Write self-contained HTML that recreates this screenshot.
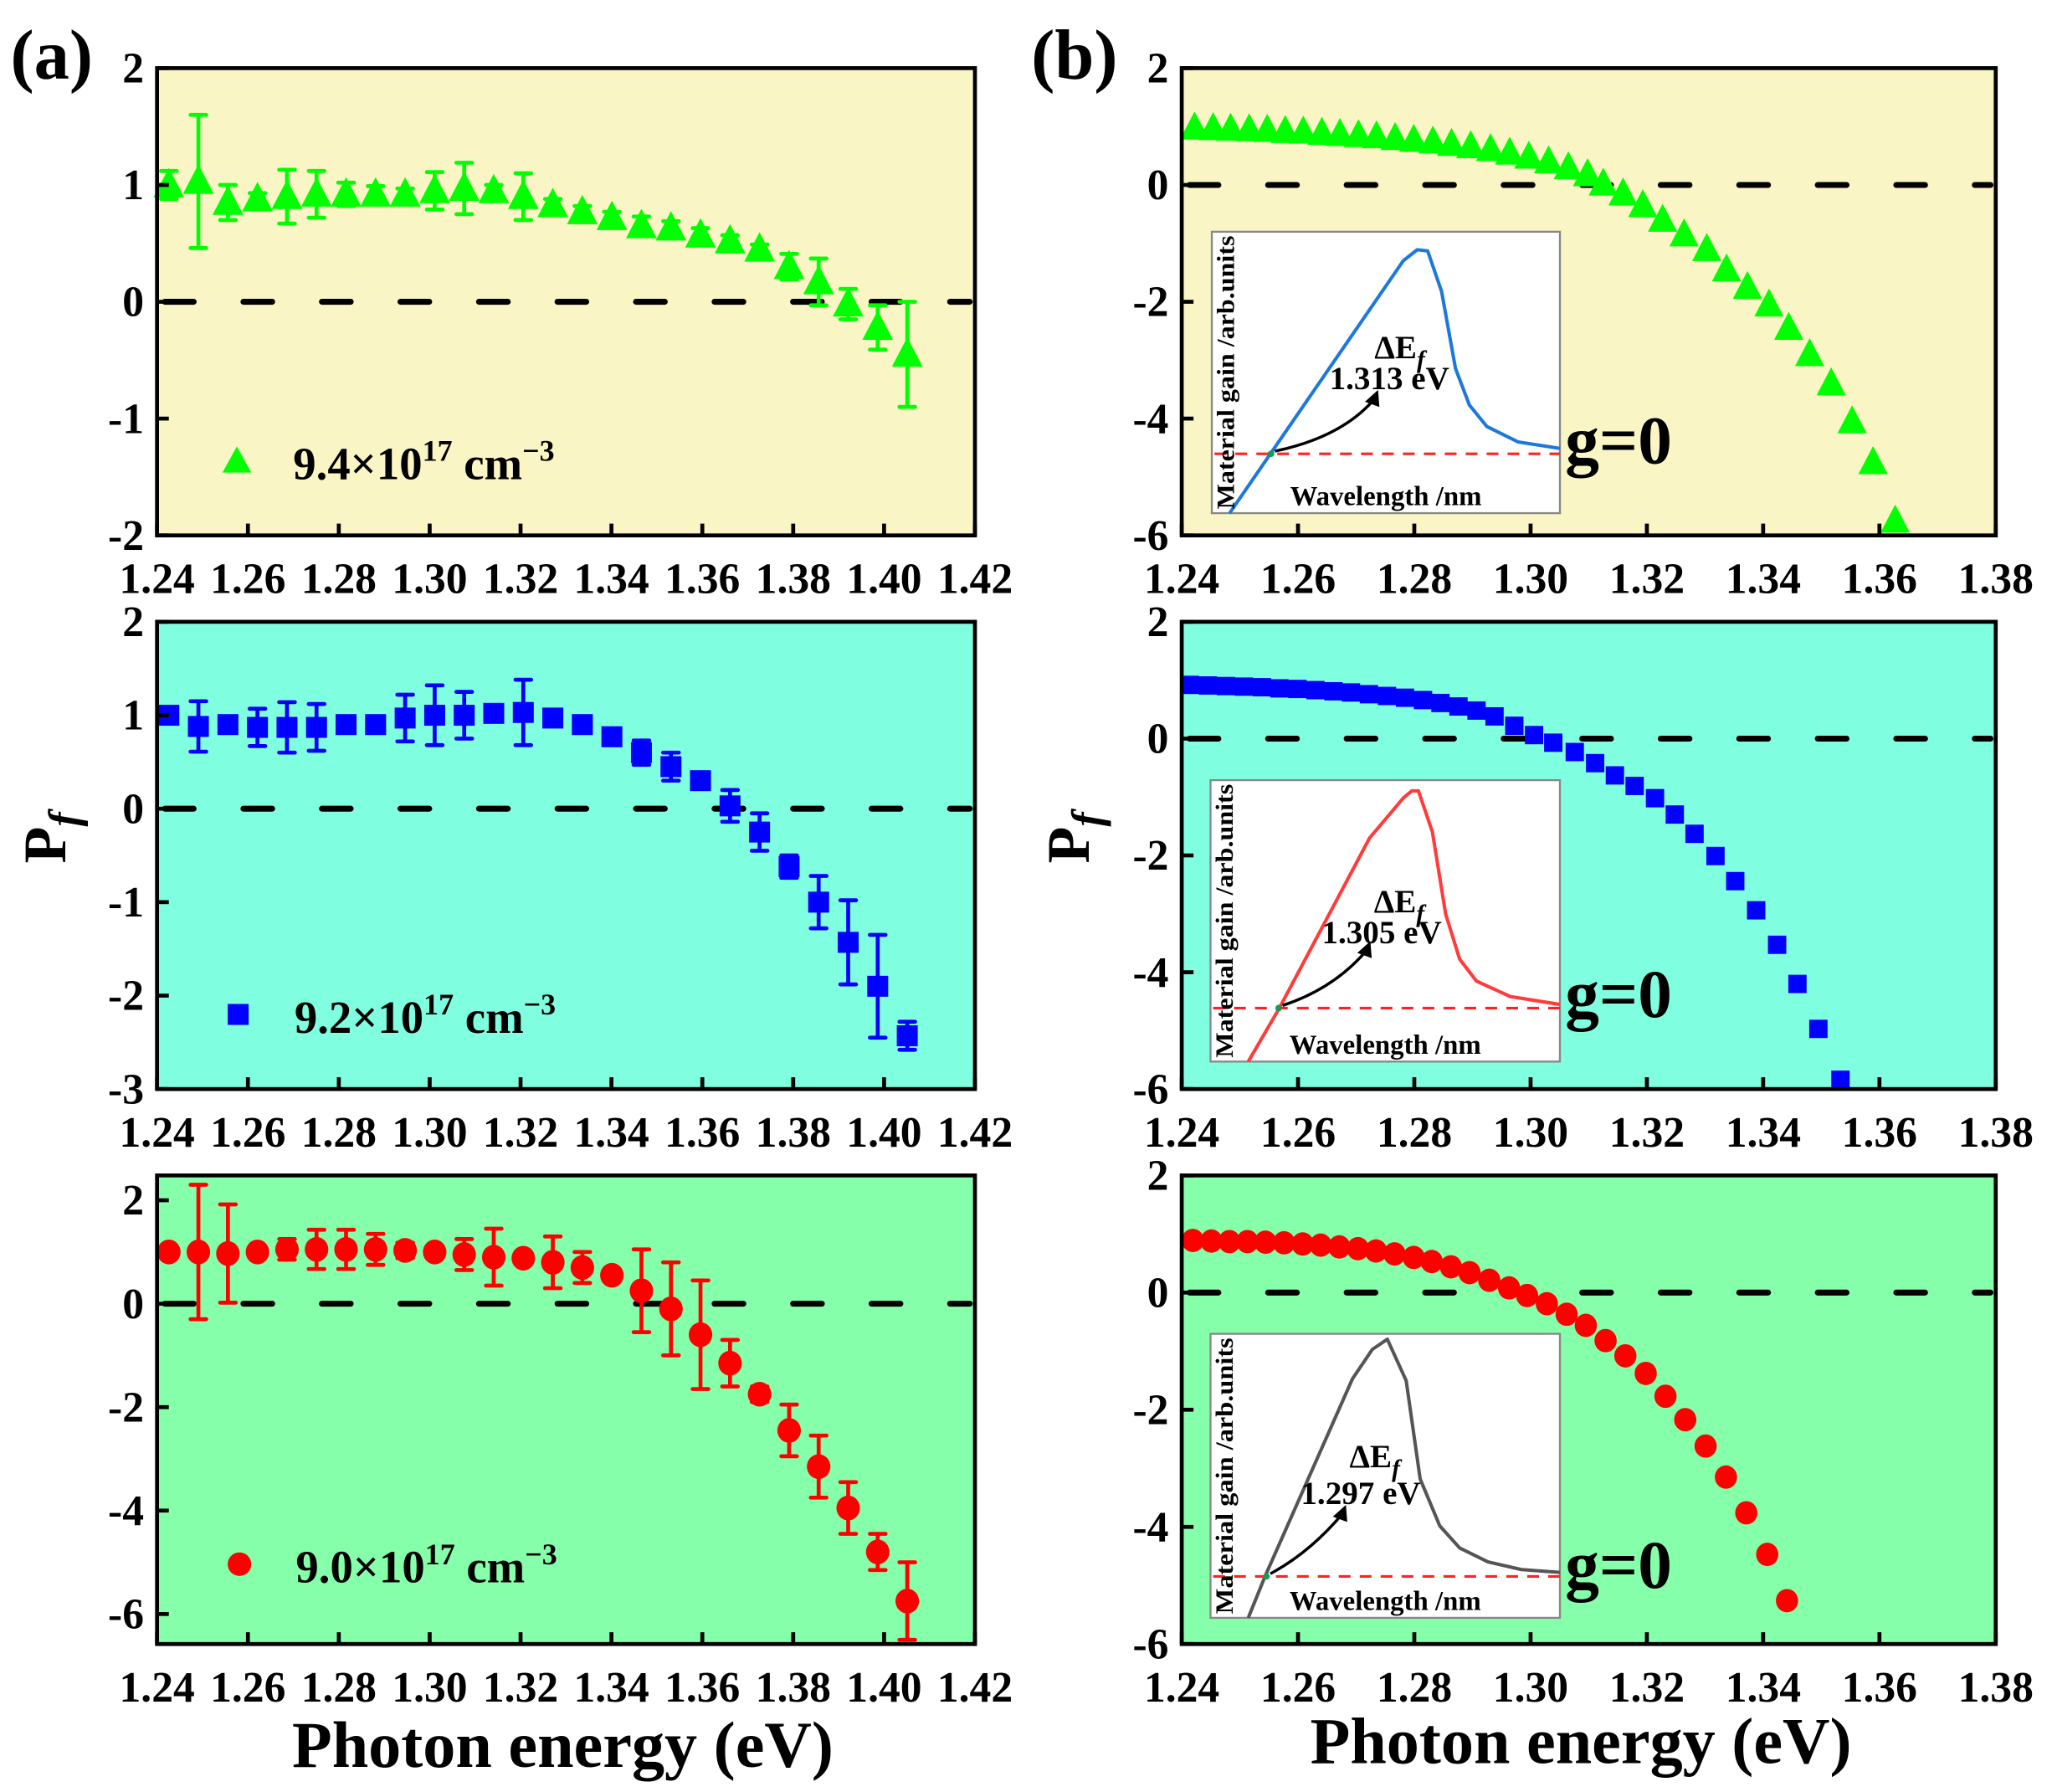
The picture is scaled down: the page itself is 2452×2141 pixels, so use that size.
<!DOCTYPE html>
<html><head><meta charset="utf-8"><style>
html,body{margin:0;padding:0;background:#fff;}
svg{display:block;font-family:"Liberation Serif",serif;font-weight:bold;}
</style></head><body>
<svg id="fig" width="2452" height="2141" viewBox="0 0 1568 1369" xmlns="http://www.w3.org/2000/svg"></svg>
<script>
// ---- data ----
const xA = [1.2426,1.2491,1.2556,1.2621,1.2686,1.2751,1.2816,1.2881,1.2946,1.3011,1.3076,1.3141,1.3206,1.3271,1.3336,1.3401,1.3466,1.3531,1.3596,1.3661,1.3726,1.3791,1.3856,1.3921,1.3986,1.4051];
const yA1 = [1.0,1.03,0.85,0.88,0.9,0.92,0.92,0.92,0.92,0.95,0.97,0.95,0.9,0.83,0.77,0.72,0.65,0.63,0.57,0.52,0.45,0.30,0.17,-0.02,-0.22,-0.45];
const eA1 = [0.12,0.57,0.15,0.05,0.23,0.2,0.1,0.07,0.05,0.16,0.22,0.05,0.2,0.05,0.05,0.05,0.08,0.06,0.06,0.05,0.04,0.11,0.2,0.13,0.19,0.45];
const yA2 = [1.0,0.88,0.9,0.87,0.87,0.87,0.9,0.9,0.97,1.0,1.0,1.02,1.03,0.97,0.9,0.77,0.6,0.45,0.3,0.03,-0.25,-0.62,-1.0,-1.43,-1.9,-2.43];
const eA2 = [0.05,0.27,0.07,0.2,0.27,0.25,0.05,0.05,0.25,0.32,0.25,0.05,0.35,0.05,0.05,0.05,0.13,0.15,0.05,0.17,0.2,0.12,0.28,0.45,0.55,0.15];
const yA3 = [1.0,1.0,0.97,1.0,1.05,1.05,1.05,1.05,1.03,1.0,0.95,0.9,0.88,0.8,0.7,0.55,0.25,-0.1,-0.6,-1.15,-1.75,-2.45,-3.15,-3.95,-4.8,-5.75];
const eA3 = [0.1,1.3,0.95,0.1,0.2,0.38,0.38,0.3,0.15,0.1,0.3,0.55,0.1,0.5,0.3,0.1,0.8,0.9,1.05,0.45,0.15,0.5,0.6,0.5,0.35,0.75];
const xB1 = [1.2422,1.2454,1.2484,1.2516,1.2547,1.2578,1.2609,1.2641,1.2672,1.2704,1.2735,1.2767,1.2799,1.2832,1.2864,1.2897,1.2931,1.2964,1.2997,1.3031,1.3065,1.3098,1.3125,1.3159,1.3193,1.3227,1.3264,1.3303,1.3337,1.3373,1.3410,1.3444,1.3480,1.3517,1.3553,1.3589,1.3627];
const yB1 = [0.98,0.97,0.96,0.95,0.94,0.92,0.91,0.89,0.87,0.85,0.83,0.80,0.77,0.74,0.70,0.66,0.61,0.55,0.48,0.40,0.30,0.18,0.02,-0.15,-0.35,-0.6,-0.85,-1.1,-1.45,-1.75,-2.05,-2.45,-2.9,-3.4,-4.05,-4.75,-5.75];
const xB2 = [1.2414,1.2445,1.2476,1.2507,1.2538,1.2568,1.2599,1.2630,1.2661,1.2691,1.2722,1.2753,1.2784,1.2815,1.2845,1.2876,1.2907,1.2938,1.2972,1.3006,1.3039,1.3076,1.3111,1.3145,1.3179,1.3214,1.3248,1.3282,1.3318,1.3352,1.3388,1.3424,1.3459,1.3495,1.3533];
const yB2 = [0.92,0.91,0.90,0.89,0.88,0.86,0.85,0.83,0.81,0.79,0.76,0.73,0.70,0.66,0.61,0.55,0.48,0.38,0.22,0.06,-0.07,-0.23,-0.42,-0.63,-0.81,-1.02,-1.30,-1.63,-2.01,-2.44,-2.94,-3.53,-4.2,-4.97,-5.84];
const xB3 = [1.2419,1.2451,1.2482,1.2513,1.2544,1.2576,1.2608,1.2639,1.2671,1.2703,1.2734,1.2766,1.2799,1.2830,1.2863,1.2895,1.2929,1.2963,1.2994,1.3028,1.3062,1.3095,1.3129,1.3163,1.3198,1.3232,1.3266,1.3301,1.3336,1.3371,1.3407,1.3441];
const yB3 = [0.89,0.88,0.87,0.87,0.86,0.85,0.83,0.81,0.78,0.75,0.71,0.66,0.60,0.53,0.44,0.34,0.21,0.08,-0.05,-0.19,-0.37,-0.56,-0.82,-1.08,-1.38,-1.77,-2.17,-2.62,-3.15,-3.76,-4.47,-5.26];
const xTicksA = [1.24,1.26,1.28,1.30,1.32,1.34,1.36,1.38,1.40,1.42];
const xTicksB = [1.24,1.26,1.28,1.30,1.32,1.34,1.36,1.38];
const yTicksA1 = [2,1,0,-1,-2];
const yTicksA2 = [2,1,0,-1,-2,-3];
const yTicksA3 = [2,0,-2,-4,-6];
const yTicksB = [2,0,-2,-4,-6];
// inset curves (normalized within inset box)
const inset1U = [0.051,0.55,0.59,0.62,0.66,0.70,0.74,0.79,0.88,1.0];
const inset1V = [1,0.103,0.064,0.068,0.212,0.486,0.616,0.692,0.747,0.77];
const inset2U = [0.108,0.197,0.455,0.552,0.576,0.595,0.635,0.673,0.713,0.761,0.858,1];
const inset2V = [1,0.81,0.206,0.063,0.038,0.038,0.184,0.476,0.636,0.714,0.769,0.797];
const inset3U = [0.108,0.156,0.406,0.463,0.506,0.56,0.6,0.656,0.713,0.794,0.89,1];
const inset3V = [1,0.854,0.159,0.055,0.019,0.165,0.511,0.676,0.754,0.803,0.83,0.84];

const NS = "http://www.w3.org/2000/svg";
const svg = document.getElementById('fig');
function mk(tag, attrs, parent, txt){
  const e = document.createElementNS(NS, tag);
  for (const k in attrs) e.setAttribute(k, attrs[k]);
  if (txt !== undefined) e.textContent = txt;
  (parent || svg).appendChild(e);
  return e;
}
function panel(o){
  const g = mk('g', {});
  
  
  const sx = v => o.x0 + (v - o.xmin) / (o.xmax - o.xmin) * (o.x1 - o.x0);
  const sy = v => o.y1 - (v - o.ymin) / (o.ymax - o.ymin) * (o.y1 - o.y0);
  const bg = mk('rect', {x:o.x0, y:o.y0, width:o.x1-o.x0, height:o.y1-o.y0, fill:o.bg}, g);
  
  
  const z = mk('line', {x1:o.x0+6, x2:o.x1-4, y1:sy(0), y2:sy(0), stroke:'#000', 'stroke-width':4.5, 'stroke-dasharray':'22 38', 'stroke-linecap':'round'}, g);
  
  
  if (o.err){
    for (let i=0;i<o.xs.length;i++){
      const x=sx(o.xs[i]), a=sy(o.ys[i]+o.err[i]), b=sy(o.ys[i]-o.err[i]);
      const eb = mk('path', {d:`M${x},${a}V${b}M${x-6},${a}H${x+6}M${x-6},${b}H${x+6}`, stroke:o.color, 'stroke-width':3, fill:'none', 'stroke-linecap':'round'}, g);
      
      
    }
  }
  for (let i=0;i<o.xs.length;i++){
    const x=sx(o.xs[i]), y=sy(o.ys[i]), s=o.ms;
    if (y > o.y1 + s) continue;
    let m;
    if (o.marker==='tri') m = mk('path', {d:`M${x},${y-s*0.62}L${x+s*0.56},${y+s*0.45}L${x-s*0.56},${y+s*0.45}Z`, fill:o.color}, g);
    else if (o.marker==='sq') m = mk('rect', {x:x-s/2, y:y-s/2, width:s, height:s, fill:o.color}, g);
    else m = mk('ellipse', {cx:x, cy:y, rx:s/2, ry:s/2*1.05, fill:o.color}, g);
    
    
  }
  const fr = mk('rect', {x:o.x0, y:o.y0, width:o.x1-o.x0, height:o.y1-o.y0, fill:'none', stroke:'#000', 'stroke-width':3}, g);
  
  
  for (const t of o.xt){
    const x=sx(t);
    mk('line', {x1:x, x2:x, y1:o.y1, y2:o.y1-9, stroke:'#000', 'stroke-width':3}, g);
    const tl = mk('text', {x:x, y:o.y1+44, 'text-anchor':'middle', 'font-size':33}, g, t.toFixed(2));
    
    
  }
  for (const t of o.yt){
    const y=sy(t);
    mk('line', {x1:o.x0, x2:o.x0+9, y1:y, y2:y, stroke:'#000', 'stroke-width':3}, g);
    const tl = mk('text', {x:o.x0-10, y:y+11, 'text-anchor':'end', 'font-size':33}, g, String(t));
    
    
  }
  return g;
}
function inset(bx, by, bw, bh, U, V, col, dashV, dotU, txtE, eU, eV, vU, vV, arrowEnd){
  const g = mk('g', {});
  
  
  mk('rect', {x:bx, y:by, width:bw, height:bh, fill:'#fff', stroke:'#888', 'stroke-width':1.5}, g);
  let d='';
  for (let i=0;i<U.length;i++) d += (i?'L':'M') + (bx+U[i]*bw) + ',' + (by+V[i]*bh);
  const c = mk('path', {d:d, fill:'none', stroke:col, 'stroke-width':2.6, 'stroke-linejoin':'round'}, g);
  
  
  const dy = by + dashV*bh;
  mk('line', {x1:bx+2, x2:bx+bw, y1:dy, y2:dy, stroke:'#f22', 'stroke-width':2, 'stroke-dasharray':'9 7'}, g);
  const dx = bx + dotU*bw;
  mk('circle', {cx:dx, cy:dy, r:2.5, fill:'#1a9a50'}, g);
  const ax = bx+arrowEnd[0]*bw, ay = by+arrowEnd[1]*bh;
  mk('path', {d:`M${dx+3},${dy-2}Q${ax-25},${ay+30} ${ax},${ay}`, fill:'none', stroke:'#000', 'stroke-width':2.2}, g);
  mk('path', {d:`M${ax+2},${ay-6}L${ax+3},${ay+7}L${ax-8},${ay+3}Z`, fill:'#000'}, g);
  const t1 = mk('text', {x:bx+eU*bw, y:by+eV*bh, 'text-anchor':'middle', 'font-size':25}, g);
  mk('tspan', {}, t1, 'ΔE');
  mk('tspan', {dy:7, 'font-size':19, 'font-style':'italic'}, t1, 'f');
  const t2 = mk('text', {x:bx+vU*bw, y:by+vV*bh, 'text-anchor':'middle', 'font-size':25}, g, txtE);
  
  
  const wl = mk('text', {x:bx+bw*0.5, y:by+bh-6, 'text-anchor':'middle', 'font-size':21}, g, 'Wavelength /nm');
  
  
  const yl = mk('text', {x:0, y:0, transform:`translate(${bx+17},${by+bh/2}) rotate(-90)`, 'text-anchor':'middle', 'font-size':19, textLength:bh-6, lengthAdjust:'spacingAndGlyphs'}, g, 'Material gain /arb.units');
  
  
}
function legend(mx, my, marker, color, base, by){
  const g = mk('g', {});
  
  
  if (marker==='tri') mk('path', {d:`M${mx},${my-11}L${mx+11},${my+9}L${mx-11},${my+9}Z`, fill:color}, g);
  else if (marker==='sq') mk('rect', {x:mx-8, y:my-8, width:16, height:16, fill:color}, g);
  else mk('circle', {cx:mx, cy:my, r:9, fill:color}, g);
  const t = mk('text', {x:mx+43, y:by, 'font-size':35}, g);
  mk('tspan', {}, t, base + '×10');
  mk('tspan', {dy:-14, 'font-size':23}, t, '17');
  mk('tspan', {dy:14}, t, ' cm');
  mk('tspan', {dy:-14, 'font-size':23}, t, '−3');
}
const Lx0=120, Lx1=745, Rx0=903, Rx1=1525;
const rows=[[52,409],[475,832],[898,1256]];
panel({name:'panel-a-top', x0:Lx0,x1:Lx1,y0:rows[0][0],y1:rows[0][1], xmin:1.24,xmax:1.42,ymin:-2,ymax:2, bg:'#FAF5C4', xs:xA, ys:yA1, err:eA1, color:'#00FF00', marker:'tri', ms:21, xt:xTicksA, yt:yTicksA1});
panel({name:'panel-a-middle', x0:Lx0,x1:Lx1,y0:rows[1][0],y1:rows[1][1], xmin:1.24,xmax:1.42,ymin:-3,ymax:2, bg:'#80FFE0', xs:xA, ys:yA2, err:eA2, color:'#0000FF', marker:'sq', ms:16, xt:xTicksA, yt:yTicksA2});
panel({name:'panel-a-bottom', x0:Lx0,x1:Lx1,y0:rows[2][0],y1:rows[2][1], xmin:1.24,xmax:1.42,ymin:-6.58,ymax:2.48, bg:'#86FFAA', xs:xA, ys:yA3, err:eA3, color:'#FF0000', marker:'circ', ms:18, xt:xTicksA, yt:yTicksA3});
panel({name:'panel-b-top', x0:Rx0,x1:Rx1,y0:rows[0][0],y1:rows[0][1], xmin:1.24,xmax:1.38,ymin:-6,ymax:2, bg:'#FAF5C4', xs:xB1, ys:yB1, color:'#00FF00', marker:'tri', ms:20, xt:xTicksB, yt:yTicksB});
panel({name:'panel-b-middle', x0:Rx0,x1:Rx1,y0:rows[1][0],y1:rows[1][1], xmin:1.24,xmax:1.38,ymin:-6,ymax:2, bg:'#80FFE0', xs:xB2, ys:yB2, color:'#0000FF', marker:'sq', ms:14, xt:xTicksB, yt:yTicksB});
panel({name:'panel-b-bottom', x0:Rx0,x1:Rx1,y0:rows[2][0],y1:rows[2][1], xmin:1.24,xmax:1.38,ymin:-6,ymax:2, bg:'#86FFAA', xs:xB3, ys:yB3, color:'#FF0000', marker:'circ', ms:17, xt:xTicksB, yt:yTicksB});

inset(926,177,266,215, inset1U, inset1V, '#1E78DC', 0.789, 0.17, '1.313 eV', 0.54,0.45, 0.51,0.56, [0.47,0.59]);
inset(925,596,267,215, inset2U, inset2V, '#FF3B3B', 0.81, 0.195, '1.305 eV', 0.54,0.47, 0.49,0.58, [0.45,0.6]);
inset(925,1019,267,217, inset3U, inset3V, '#555555', 0.854, 0.16, '1.297 eV', 0.47,0.47, 0.43,0.6, [0.38,0.63]);

legend(181, 352, 'tri', '#00FF00', '9.4', 366);
legend(182, 775, 'sq', '#0000FF', '9.2', 789);
legend(183, 1195, 'circ', '#FF0000', '9.0', 1209);

function label(txt, x, y, size, name, extra){
  const t = mk('text', Object.assign({x:x, y:y, 'font-size':size}, extra||{}), svg, txt);
  
  
  return t;
}
label('(a)', 8, 60, 54, 'panel-label-a');
label('(b)', 788, 60, 54, 'panel-label-b');
label('g=0', 1196, 354, 52, 'g-zero-label');
label('g=0', 1196, 777, 52, 'g-zero-label');
label('g=0', 1196, 1213, 52, 'g-zero-label');
label('Photon energy (eV)', 430, 1350, 50, 'x-axis-title', {'text-anchor':'middle'});
label('Photon energy (eV)', 1208, 1347, 50, 'x-axis-title', {'text-anchor':'middle'});
for (const px of [50, 832]){
  const t = mk('text', {x:0, y:0, transform:`translate(${px},640) rotate(-90)`, 'text-anchor':'middle', 'font-size':46});
  
  
  mk('tspan', {}, t, 'P');
  mk('tspan', {dy:10, 'font-size':33, 'font-style':'italic'}, t, 'f');
}
</script>
</body></html>
